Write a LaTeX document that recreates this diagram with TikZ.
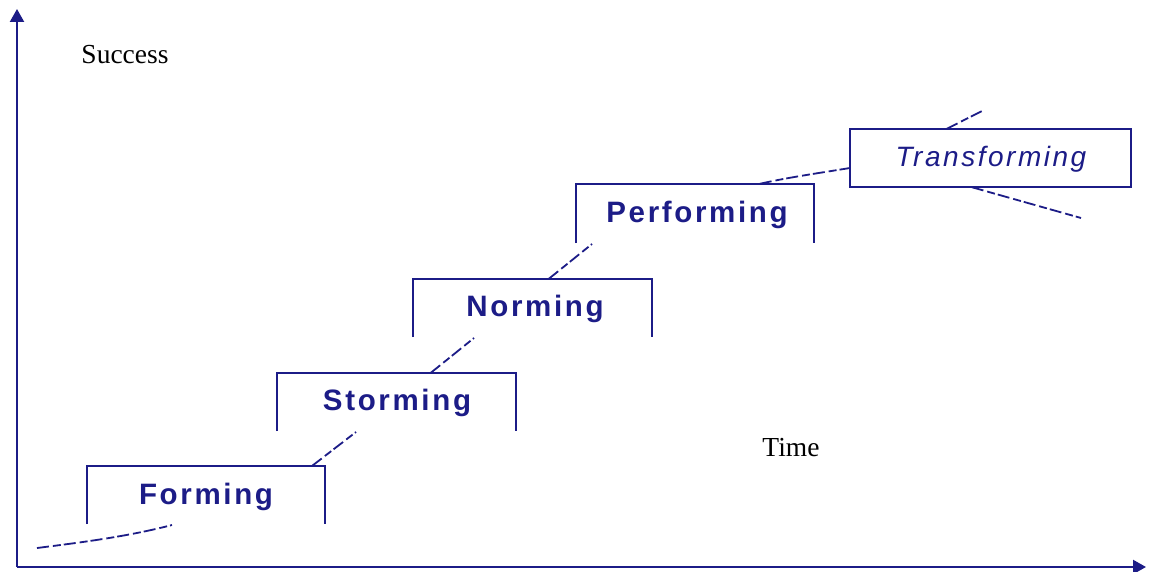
\documentclass[tikz,border=0pt]{standalone}
\usepackage{fontspec}
\setmainfont{Liberation Serif}
\newfontfamily\boxfont[LetterSpace=9]{Liberation Sans}
\usetikzlibrary{arrows.meta,calc}
\definecolor{navy}{RGB}{28,28,135}
\begin{document}
\begin{tikzpicture}[x=1pt,y=-1pt,
  axis/.style={draw=navy,line width=2.2pt,-{Triangle[width=14pt,length=13pt]}},
  stagebox/.style={rectangle,inner sep=0pt,text=navy},
  openbox/.style={draw=navy,line width=2.2pt},
  stagelabel/.style={font=\boxfont\fontsize{29.5}{32}\selectfont\bfseries,text=navy},
  dashline/.style={draw=navy,line width=1.8pt,dash pattern=on 12pt off 4pt on 8pt off 3pt},
  axislabel/.style={font=\fontsize{27.5}{30}\selectfont,text=black}]
\useasboundingbox (0,0) rectangle (1151,572);
\fill[white] (0,0) rectangle (1151,572);
% axes
\coordinate (o) at (17,567);
\coordinate (ytip) at (17,9);
\coordinate (xtip) at (1146,567);
\draw[axis] (o) -- (ytip);
\draw[axis] (o) -- (xtip);
\node[axislabel] (succ) at (125,55) {Success};
\node[axislabel] (time) at (791,448) {Time};
% stage boxes
\node[stagebox,minimum width=238pt,minimum height=58pt] (f) at (206,495) {};
\node[stagebox,minimum width=239pt,minimum height=58pt] (s) at (396.5,402) {};
\node[stagebox,minimum width=239pt,minimum height=58pt] (n) at (532.5,308) {};
\node[stagebox,minimum width=238pt,minimum height=59pt] (p) at (695,213.5) {};
\node[stagebox,minimum width=281pt,minimum height=58pt] (t) at (990.5,158) {};
\draw[openbox] (f.south west) -- (f.north west) -- (f.north east) -- (f.south east);
\draw[openbox] (s.south west) -- (s.north west) -- (s.north east) -- (s.south east);
\draw[openbox] (n.south west) -- (n.north west) -- (n.north east) -- (n.south east);
\draw[openbox] (p.south west) -- (p.north west) -- (p.north east) -- (p.south east);
\draw[openbox] (t.south west) rectangle (t.north east);
\node[stagelabel] (fl) at (206,497) {Forming};
\node[stagelabel] (sl) at (397,403) {Storming};
\node[stagelabel] (nl) at (535,309) {Norming};
\node[stagelabel] (pl) at (697,215) {Performing};
\node[font=\boxfont\fontsize{28}{32}\selectfont\itshape,text=navy] (tl) at (991,159) {Transforming};
% dashed transitions
\coordinate (d0a) at (37,548);
\coordinate (d0b) at (172,525);
\draw[dashline] (d0a) .. controls (85,542) and (130,536) .. (d0b);
\coordinate (d1b) at (356,432);
\draw[dashline] ($(f.north east)+(-13,0)$) -- (d1b);
\coordinate (d2b) at (474,338);
\draw[dashline] ($(s.north west)+(154,0)$) -- (d2b);
\coordinate (d3b) at (592,244);
\draw[dashline] ($(n.north west)+(136,0)$) -- (d3b);
\draw[dashline] ($(p.north west)+(184,0)$) .. controls (790,177) and (820,173) .. (t.west |- 0,168);
\coordinate (d5b) at (984,110);
\draw[dashline] ($(t.north west)+(97,0)$) -- (d5b);
\coordinate (d6b) at (1081,218);
\draw[dashline] ($(t.south west)+(122,0)$) -- (d6b);
\end{tikzpicture}
\end{document}
